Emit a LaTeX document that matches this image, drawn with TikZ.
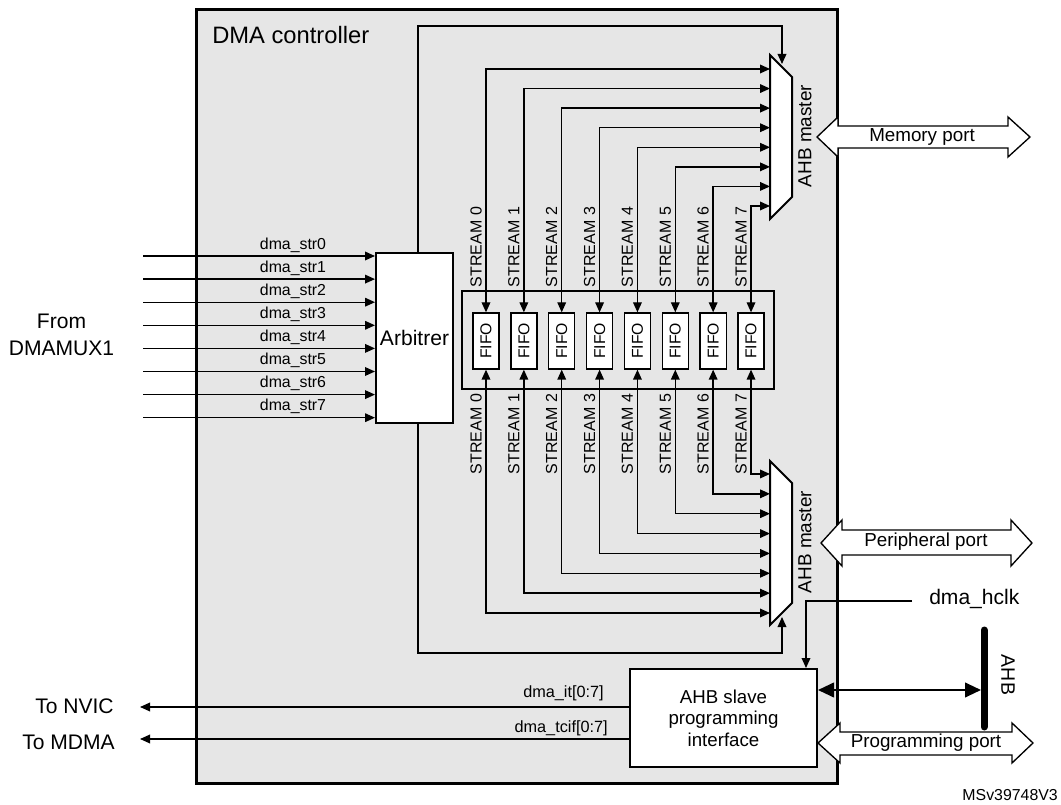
\documentclass[tikz,border=0pt]{standalone}
\usepackage{fontspec}
\setmainfont{Liberation Sans}
\usetikzlibrary{arrows.meta,calc}
\definecolor{ctrlfill}{RGB}{230,230,230}
\newcommand{\fs}[1]{\fontsize{#1pt}{#1pt}\selectfont}
\tikzset{
  tip/.tip={Triangle[length=7.5pt,width=6.5pt]},
  sig/.style={line width=1pt,-tip},
  sigboth/.style={line width=1pt,tip-tip},
  blk/.style={draw,line width=1.5pt,fill=white,inner sep=0pt},
  fifo/.style={draw,line width=1pt,fill=white,inner sep=0pt,
    minimum width=56*0.75pt,minimum height=26*0.75pt,rotate=90,font=\fs{11.8}},
  strlab/.style={rotate=90,inner sep=0pt,font=\fs{12}},
  muxshape/.style={draw,line width=1.5pt,fill=white,line join=miter},
  portline/.style={draw,line width=1pt,fill=white,line join=miter},
  plain/.style={inner sep=0pt}
}
\begin{document}
\begin{tikzpicture}[x=0.75pt,y=-0.75pt]
\useasboundingbox (0,0) rectangle (1061,805);

% controller outline
\node[draw,line width=2.25pt,fill=ctrlfill,inner sep=0pt,
  minimum width=641*0.75pt,minimum height=773*0.75pt] (dma) at (516.5,396.5) {};
\node[plain,anchor=west,font=\fs{17.8}] (title) at (212,35) {DMA controller};

% arbiter
\node[blk,minimum width=77*0.75pt,minimum height=170*0.75pt,font=\fs{15.8}] (arb) at (414.5,338) {Arbitrer};

% request inputs
\node[plain,align=center,font=\fs{15.8}] (mux1) at (61.5,335) {From\\[4pt]DMAMUX1};
\foreach \k in {0,...,7}{
  \pgfmathsetmacro\yy{256+23.1*\k}
  \coordinate (req\k) at (143,\yy);
  \draw[sig] (req\k) -- (req\k -| arb.west);
  \node[plain,font=\fs{11.9}] at (293,\yy-11) {dma\_str\k};
}

% FIFO block
\node[draw,line width=1.5pt,inner sep=0pt,minimum width=312*0.75pt,minimum height=98*0.75pt] (fblk) at (618,340) {};

% AHB master multiplexers
\draw[muxshape] (770,55) -- (792,77) -- (792,197) -- (770,219) -- cycle;
\draw[muxshape] (770,461) -- (792,483) -- (792,603) -- (770,625) -- cycle;
\node[plain,rotate=90,font=\fs{14.2}] (mtlab) at (805,136) {AHB master};
\node[plain,rotate=90,font=\fs{14.2}] (mblab) at (805,542) {AHB master};
\coordinate (mtctl) at (782,64);
\coordinate (mbctl) at (782,617);

% streams
\foreach \k in {0,...,7}{
  \pgfmathsetmacro\xx{486+37.86*\k}
  \pgfmathsetmacro\yt{69+19.57*\k}
  \pgfmathsetmacro\yb{613-19.86*\k}
  \node[fifo] (fifo\k) at (\xx,341) {FIFO};
  \coordinate (mt\k) at (770,\yt);
  \coordinate (mb\k) at (770,\yb);
  \draw[sigboth] (fifo\k.east) |- (mt\k);
  \draw[sigboth] (fifo\k.west) |- (mb\k);
  \node[strlab] at (\xx-10,247) {STREAM \k};
  \node[strlab] at (\xx-10,434) {STREAM \k};
}

% arbiter control to both masters
\draw[sig] ($(arb.north)+(3.5,0)$) |- (600,26) -| (mtctl);
\draw[sig] ($(arb.south)+(3.5,0)$) |- (600,653) -| (mbctl);

% slave programming interface
\node[blk,minimum width=187*0.75pt,minimum height=98*0.75pt,align=center,font=\fs{14}] (slave) at (723.5,718)
  {AHB slave\\[2.2pt]programming\\[2.2pt]interface};

% clock
\node[plain,anchor=west,font=\fs{15.8}] (hclk) at (929,599) {dma\_hclk};
\coordinate (hclkend) at (912,601);
\draw[sig] (hclkend) -| ($(slave.north)+(82.5,0)$);

% AHB bus
\coordinate (ahbtop) at (984,630);
\coordinate (ahbbot) at (984,727);
\draw[line width=5.25pt,line cap=round] (ahbtop) -- (ahbbot);
\node[plain,rotate=-90,font=\fs{14.6}] (ahblab) at (1008,675) {AHB};
\coordinate (ahbhit) at (981,690);
\draw[line width=1.5pt,{Triangle[length=12pt,width=11pt]}-{Triangle[length=12pt,width=11pt]}]
  ($(slave.east)+(0,-28)$) -- (ahbhit);

% interrupt outputs
\node[plain,anchor=east,font=\fs{15.8}] (nvic) at (114,706) {To NVIC};
\node[plain,anchor=east,font=\fs{15.8}] (mdma) at (115,742) {To MDMA};
\draw[sig] ($(slave.west)+(0,-11)$) -- ($(nvic.east)+(26,1)$);
\draw[sig] ($(slave.west)+(0,21)$) -- ($(mdma.east)+(25,-3)$);
\node[plain,anchor=east,font=\fs{12.2}] (itlab) at (604,693) {dma\_it[0:7]};
\node[plain,anchor=east,font=\fs{12.2}] (tciflab) at (608,728) {dma\_tcif[0:7]};

% ports
\draw[portline] (817,137) -- (838,117) -- (838,126) -- (1008,126) -- (1008,117) -- (1030,137)
  -- (1008,157) -- (1008,148) -- (838,148) -- (838,157) -- cycle;
\node[plain,font=\fs{14.1}] (memport) at (922,137) {Memory port};
\draw[portline] (821,543) -- (842,520) -- (842,530) -- (1011,530) -- (1011,520) -- (1032,543)
  -- (1011,566) -- (1011,555) -- (842,555) -- (842,566) -- cycle;
\node[plain,font=\fs{14.1}] (perport) at (926,542) {Peripheral port};
\draw[portline] (818,743) -- (840,723) -- (840,732) -- (1012,732) -- (1012,723) -- (1033,743)
  -- (1012,763) -- (1012,755) -- (840,755) -- (840,763) -- cycle;
\node[plain,font=\fs{14.1}] (progport) at (926,743) {Programming port};

% reference tag
\node[plain,anchor=east,font=\fs{11.9}] (tag) at (1058,795) {MSv39748V3};
\end{tikzpicture}
\end{document}
